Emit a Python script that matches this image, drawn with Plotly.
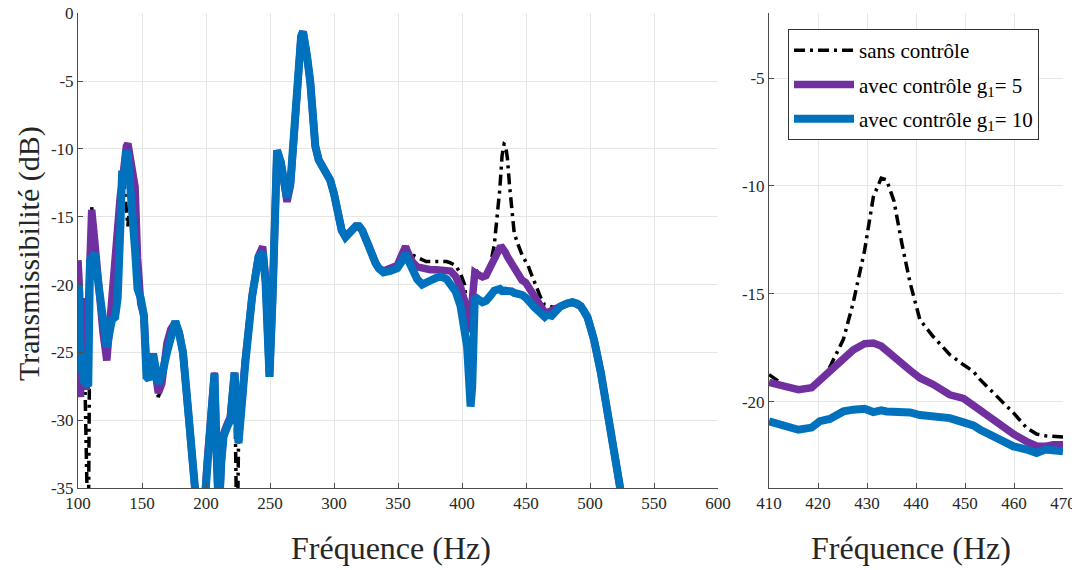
import plotly.graph_objects as go

# Frequency grid (Hz)
freq = [100.0, 101.0, 102.0, 103.0, 104.0, 105.5, 106.5, 108.0, 109.4, 110.7,
        113.0, 116.0, 119.5, 122.5, 124.5, 126.5, 129.0, 131.0, 133.0, 134.5,
        136.0, 137.8, 139.0, 140.5, 142.5, 144.6, 146.5, 149.0, 151.5, 153.5,
        155.5, 158.7, 162.7, 165.5, 169.5, 172.5, 176.0, 179.0, 182.0, 186.3,
        191.5, 196.0, 201.0, 204.0, 206.6, 208.5, 210.0, 212.0, 213.7, 216.5,
        219.0, 222.3, 224.3, 225.4, 230.7, 236.0, 241.0, 244.3, 246.5, 249.6,
        252.0, 255.5, 258.5, 261.0, 263.3, 266.0, 270.0, 272.5, 274.3, 275.8, 277.2, 279.0,
        281.5, 283.5, 285.4, 288.0, 290.7, 294.0, 297.0, 300.0, 303.4, 306.0,
        309.0, 311.5, 314.0, 317.0, 319.5, 322.0, 326.0, 329.0, 332.4, 335.0,
        338.7, 344.0, 349.4, 353.0, 355.9, 358.0, 361.0, 365.0, 368.9, 372.0,
        375.4, 380.0, 383.3, 388.0, 391.0, 395.0, 398.9, 402.0, 404.0, 405.5,
        406.7, 408.0, 409.0, 410.0, 412.9, 416.0, 418.7, 420.4, 422.4, 425.2,
        427.2, 429.5, 431.3, 432.9, 434.0, 435.5, 437.1, 438.8, 440.8, 443.5,
        446.9, 449.7, 451.7, 453.1, 456.5, 459.9, 462.6, 464.6, 466.4, 468.0,
        470.0, 474.0, 477.0, 482.0, 486.3, 490.0, 492.8, 495.5, 498.0, 500.5,
        503.2, 508.5, 516.3, 524.1, 528.0]

# sans contrôle (dB)
sans_controle = [-18.5, -22.0, -27.0, -25.0, -27.5, -27.5, -40.0, -40.0, -20.0, -14.3,
                 -16.5, -20.5, -23.5, -25.0, -22.5, -21.2, -20.0, -17.0, -15.0, -13.5,
                 -12.5, -14.5, -15.7, -14.0, -13.5, -16.0, -19.5, -21.2, -22.0, -26.0,
                 -26.5, -25.3, -28.3, -27.5, -24.5, -23.5, -22.8, -23.5, -25.0, -29.5,
                 -35.3, -40.0, -33.0, -29.0, -26.5, -33.0, -37.0, -33.0, -31.2, -30.5,
                 -29.8, -26.5, -40.0, -31.7, -25.8, -20.9, -18.0, -17.5, -19.5, -26.8,
                 -21.0, -10.1, -11.0, -12.5, -13.7, -12.5, -6.4, -3.6, -1.7, -1.35, -2.0, -3.2,
                 -5.1, -8.0, -9.8, -10.8, -11.3, -11.8, -12.3, -13.3, -14.7, -16.0,
                 -16.5, -16.3, -16.0, -15.7, -15.7, -16.0, -16.9, -17.8, -18.4, -18.8,
                 -19.0, -18.8, -18.6, -17.8, -17.2, -17.5, -17.8, -18.0, -18.2, -18.3,
                 -18.3, -18.3, -18.3, -18.3, -18.4, -18.6, -19.2, -20.0, -22.0, -23.0,
                 -22.0, -20.0, -19.0, -18.75, -19.2, -19.4, -19.3, -19.0, -18.4, -17.1,
                 -15.4, -13.0, -10.5, -9.64, -9.72, -10.7, -12.65, -14.5, -16.2, -16.98,
                 -17.82, -18.29, -18.6, -18.98, -19.75, -20.52, -21.22, -21.5, -21.58, -21.6,
                 -21.64, -21.7, -21.6, -21.4, -21.3, -21.4, -21.6, -22.0, -22.4, -23.2,
                 -24.1, -26.5, -30.7, -35.0, -37.5]

# avec contrôle g1 = 5 (dB)
controle_g5 = [-18.2, -20.0, -28.3, -21.0, -27.5, -27.5, -27.5, -22.0, -16.5, -14.5,
               -16.7, -20.2, -23.5, -25.6, -23.0, -21.4, -18.0, -15.5, -13.5, -12.5,
               -11.0, -9.8, -9.6, -10.5, -12.0, -12.8, -18.0, -21.4, -22.3, -25.8,
               -26.3, -25.3, -28.0, -27.3, -24.3, -23.3, -22.8, -23.5, -25.0, -29.3,
               -35.0, -40.0, -33.0, -29.0, -26.5, -33.0, -37.0, -33.0, -31.0, -30.3,
               -29.8, -26.5, -30.0, -31.5, -25.5, -20.9, -17.9, -17.2, -19.5, -26.8,
               -21.0, -10.1, -11.0, -12.7, -13.9, -12.7, -6.4, -3.6, -1.7, -1.35, -2.0, -3.2,
               -5.1, -8.0, -9.8, -10.8, -11.3, -11.8, -12.3, -13.3, -14.7, -16.0,
               -16.5, -16.3, -16.0, -15.7, -15.7, -16.0, -16.9, -17.8, -18.4, -18.8,
               -19.0, -18.8, -18.6, -17.8, -17.2, -17.7, -18.3, -18.7, -18.8, -18.9,
               -18.9, -18.9, -18.9, -18.9, -19.0, -19.4, -20.2, -21.2, -22.6, -23.5,
               -22.5, -20.5, -19.3, -19.11, -19.29, -19.44, -19.35, -19.0, -18.55, -17.95,
               -17.6, -17.31, -17.28, -17.42, -17.65, -17.95, -18.21, -18.55, -18.9, -19.2,
               -19.68, -19.85, -20.17, -20.4, -20.95, -21.5, -21.85, -22.05, -22.07, -21.99,
               -21.99, -21.8, -21.6, -21.4, -21.3, -21.4, -21.6, -22.0, -22.4, -23.2,
               -24.1, -26.5, -30.7, -35.0, -37.5]

# avec contrôle g1 = 10 (dB)
controle_g10 = [-20.0, -20.5, -26.5, -25.0, -27.0, -27.3, -27.5, -27.5, -18.2, -17.9,
                -17.7, -20.0, -23.2, -24.6, -23.6, -22.6, -22.4, -21.0, -16.0, -11.6,
                -12.0, -10.1, -10.5, -12.0, -14.5, -17.5, -20.3, -21.0, -22.3, -26.8,
                -27.0, -25.1, -27.3, -26.7, -25.0, -23.6, -22.7, -23.6, -25.0, -29.5,
                -35.3, -40.0, -33.5, -29.5, -26.6, -33.0, -37.0, -33.0, -31.2, -30.5,
                -30.0, -26.5, -30.0, -31.7, -25.8, -20.9, -18.0, -17.6, -19.8, -26.8,
                -21.0, -10.1, -11.0, -12.5, -13.6, -12.4, -6.4, -3.6, -1.7, -1.35, -2.0, -3.2,
                -5.1, -8.0, -9.8, -10.8, -11.3, -11.8, -12.3, -13.3, -14.7, -16.0,
                -16.5, -16.3, -16.0, -15.7, -15.7, -16.0, -16.9, -17.8, -18.4, -18.8,
                -19.1, -19.0, -18.8, -18.3, -17.7, -18.2, -18.9, -19.6, -20.0, -19.8,
                -19.7, -19.5, -19.4, -19.6, -19.9, -20.5, -21.6, -23.0, -24.6, -27.0,
                -29.0, -27.5, -24.6, -20.91, -21.1, -21.3, -21.2, -20.9, -20.8, -20.45,
                -20.37, -20.33, -20.48, -20.4, -20.45, -20.48, -20.45, -20.5, -20.62, -20.65,
                -20.76, -20.96, -21.1, -21.3, -21.68, -22.07, -22.22, -22.38, -22.22, -22.27,
                -22.3, -21.9, -21.6, -21.4, -21.3, -21.4, -21.6, -22.0, -22.4, -23.2,
                -24.1, -26.5, -30.7, -35.0, -37.5]

left_xticks = [100, 150, 200, 250, 300, 350, 400, 450, 500, 550, 600]
left_yticks = [0, -5, -10, -15, -20, -25, -30, -35]
right_xticks = [410, 420, 430, 440, 450, 460, 470]
right_yticks = [-5, -10, -15, -20]
zoom_range = [410, 470]

series_names = ["sans contrôle", "avec contrôle g<sub>1</sub>= 5", "avec contrôle g<sub>1</sub>= 10"]

FONT = "Liberation Serif"
BLACK = "#000000"
PURPLE = "#7030A0"
BLUE = "#0072BD"

# page body has an 8px margin: the figure is drawn offset by OFF pixels
OFF = 8
W, H = 1080 - OFF, 570 - OFF


def px(x):
    return (x - OFF) / W


def py(y):
    return 1 - (y - OFF) / H


def tick_text(vals):
    return [str(v) for v in vals]


fig = go.Figure()

series = [sans_controle, controle_g5, controle_g10]
styles = [dict(color=BLACK, width=3.5, dash="11px,5px,3px,5px"),
          dict(color=PURPLE, width=7.5),
          dict(color=BLUE, width=8)]

for i, (vals, st) in enumerate(zip(series, styles)):
    fig.add_trace(go.Scatter(x=freq, y=vals, mode="lines", line=st, name=series_names[i],
                             legendgroup=f"g{i}", showlegend=True, xaxis="x", yaxis="y"))

# zoomed panel: same data restricted to the zoom window
zi = [k for k, f in enumerate(freq) if zoom_range[0] <= f <= zoom_range[1]]
for i, (vals, st) in enumerate(zip(series, styles)):
    fig.add_trace(go.Scatter(x=[freq[k] for k in zi], y=[vals[k] for k in zi], mode="lines",
                             line=st, name=series_names[i], legendgroup=f"g{i}",
                             showlegend=False, xaxis="x2", yaxis="y2"))

axis_common = dict(showline=True, linecolor="#4d4d4d", linewidth=1, mirror=False,
                   showgrid=True, gridcolor="#e6e6e6", gridwidth=1, zeroline=False,
                   ticks="inside", ticklen=5, tickcolor="#4d4d4d", automargin=False,
                   ticklabeloverflow="allow",
                   tickfont=dict(family=FONT, size=17, color="#262626"))

fig.update_layout(
    width=W, height=H,
    margin=dict(l=0, r=0, t=0, b=0, autoexpand=False),
    paper_bgcolor="white", plot_bgcolor="white",
    xaxis=dict(domain=[px(78), px(718)], range=[100, 600], tickvals=left_xticks,
               ticktext=tick_text(left_xticks), anchor="y", **axis_common),
    yaxis=dict(domain=[py(488), py(13.3)], range=[-35, 0], tickvals=left_yticks,
               ticktext=tick_text(left_yticks), anchor="x", **axis_common),
    xaxis2=dict(domain=[px(769), px(1063)], range=zoom_range, tickvals=right_xticks,
                ticktext=tick_text(right_xticks), anchor="y2", **axis_common),
    yaxis2=dict(domain=[py(488), py(13.3)], range=[-24, -2], tickvals=right_yticks,
                ticktext=tick_text(right_yticks), anchor="x2", **axis_common),
    legend=dict(x=px(788), y=py(29), xanchor="left", yanchor="top",
                bgcolor="white", bordercolor="#333333", borderwidth=1,
                font=dict(family=FONT, size=21, color="#000000"),
                itemwidth=60, tracegroupgap=4),
    showlegend=True,
    annotations=[
        dict(text="Fréquence (Hz)", x=px(391), y=py(548), xref="paper", yref="paper",
             xanchor="center", yanchor="middle",
             showarrow=False, font=dict(family=FONT, size=32, color="#262626")),
        dict(text="Fréquence (Hz)", x=px(911), y=py(548), xref="paper", yref="paper",
             xanchor="center", yanchor="middle",
             showarrow=False, font=dict(family=FONT, size=32, color="#262626")),
        dict(text="Transmissibilité (dB)", x=px(29), y=py(254), xref="paper", yref="paper",
             xanchor="center", yanchor="middle", textangle=-90,
             showarrow=False, font=dict(family=FONT, size=30, color="#262626")),
    ],
)

fig.write_html("out.html")
